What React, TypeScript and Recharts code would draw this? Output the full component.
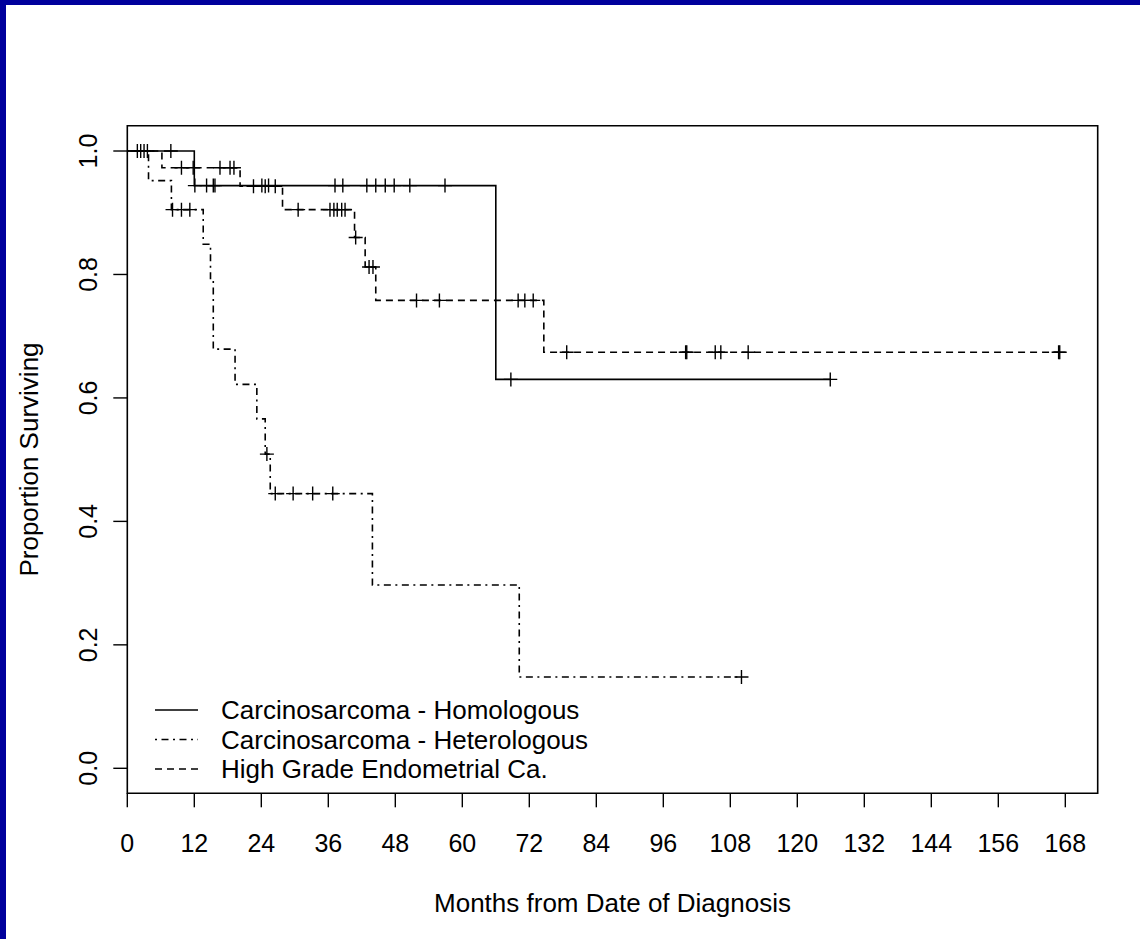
import {
  ComposedChart,
  Legend,
  Line,
  ReferenceArea,
  XAxis,
  YAxis,
} from "recharts";

// Kaplan-Meier steps: time (months) and proportion surviving after each event
const homoTimes = [0, 12, 66, 126];
const homoSurv = [1.0, 0.944, 0.63, 0.63];
const homoCensor = [
  1.8, 2.4, 3.0, 3.6, 7.8, 12.1, 14.2, 15.4, 15.7, 24.1, 25.3, 37.2, 38.6,
  42.9, 44.5, 46.2, 47.8, 50.6, 56.9, 68.7, 125.9,
];

const heteroTimes = [0, 3.8, 7.9, 13.6, 14.9, 15.4, 19.3, 23.2, 24.7, 25.6, 43.9, 70.2, 110.0];
const heteroSurv = [1.0, 0.952, 0.905, 0.849, 0.792, 0.679, 0.622, 0.566, 0.509, 0.445, 0.297, 0.148, 0.148];
const heteroCensor = [8.1, 9.7, 11.2, 25.0, 26.5, 29.7, 33.2, 36.8, 110.0];

const endoTimes = [0, 6.2, 20.2, 27.8, 40.7, 42.6, 44.5, 74.6, 167.0];
const endoSurv = [1.0, 0.973, 0.943, 0.905, 0.86, 0.812, 0.758, 0.674, 0.674];
const endoCensor = [
  9.7, 11.8, 16.6, 18.4, 19.1, 22.6, 24.7, 26.5, 30.6, 36.3, 37.0, 37.6, 38.4,
  39.0, 40.9, 43.3, 44.0, 51.8, 55.9, 70.0, 71.2, 72.7, 78.7, 100.0, 100.2,
  105.3, 106.3, 111.2, 166.8, 167.0,
];

const xTicks = [0, 12, 24, 36, 48, 60, 72, 84, 96, 108, 120, 132, 144, 156, 168];
const yTicks = [0, 0.2, 0.4, 0.6, 0.8, 1.0];

const labels = [
  "Carcinosarcoma - Homologous",
  "Carcinosarcoma - Heterologous",
  "High Grade Endometrial Ca.",
];

const X_DOMAIN: [number, number] = [0, 173.8];
const Y_DOMAIN: [number, number] = [-0.0405, 1.041];
const FONT = "'Liberation Sans', Arial, sans-serif";
const DASH = "7 5";
const DOTDASH = "2 4.5 7 4.5";

const steps = (times: number[], surv: number[]) =>
  times.map((t, i) => ({ t, s: surv[i] }));

// surviving proportion at time t on a step curve
const valueAt = (times: number[], surv: number[], t: number) => {
  let v = surv[0];
  for (let i = 0; i < times.length; i++) if (times[i] <= t) v = surv[i];
  return v;
};

const marks = (times: number[], surv: number[], cens: number[]) =>
  cens.map((t) => ({ t, s: valueAt(times, surv, t) }));

function PlusDot(props: any) {
  const { cx, cy, index } = props;
  if (cx == null || cy == null) return <g key={index} />;
  return (
    <path
      key={index}
      d={`M${cx - 7},${cy}h14M${cx},${cy - 7}v14`}
      stroke="#000"
      strokeWidth={1.4}
      fill="none"
    />
  );
}

function YTick({ x, y, payload }: any) {
  return (
    <text
      x={x}
      y={y}
      transform={`rotate(-90, ${x}, ${y})`}
      textAnchor="middle"
      fontSize={25}
      fontFamily={FONT}
      fill="#000"
    >
      {payload.value.toFixed(1)}
    </text>
  );
}

function XTick({ x, y, payload }: any) {
  return (
    <text x={x} y={y} textAnchor="middle" fontSize={25} fontFamily={FONT} fill="#000">
      {payload.value}
    </text>
  );
}

function KeyBox() {
  const dashes = [undefined, DOTDASH, DASH];
  return (
    <svg width={520} height={100}>
      {labels.map((l, i) => (
        <g key={l}>
          <line
            x1={5}
            x2={48}
            y1={20 + i * 29.5}
            y2={20 + i * 29.5}
            stroke="#000"
            strokeWidth={1.6}
            strokeDasharray={dashes[i]}
          />
          <text x={71} y={29 + i * 29.5} fontSize={26} fontFamily={FONT} fill="#000">
            {l}
          </text>
        </g>
      ))}
    </svg>
  );
}

export default function App() {
  return (
    <div
      style={{
        position: "absolute",
        left: 0,
        top: 0,
        width: 1140,
        height: 939,
        background: "#fff",
        overflow: "hidden",
      }}
    >
      <div style={{ position: "absolute", left: 0, top: 0, width: 1140, height: 5, background: "#00009C" }} />
      <div style={{ position: "absolute", left: 0, top: 0, width: 6, height: 939, background: "#00009C" }} />
      <ComposedChart
        width={1140}
        height={939}
        margin={{ top: 125.7, right: 42.3, left: 67.3, bottom: 95.7 }}
      >
        <XAxis
          dataKey="t"
          type="number"
          domain={X_DOMAIN}
          ticks={xTicks}
          allowDataOverflow
          height={50}
          axisLine={false}
          tickSize={14}
          tickMargin={45}
          tickLine={{ stroke: "#000", strokeWidth: 1.4 }}
          tick={<XTick />}
          label={(p: any) => (
            <text
              x={p.viewBox.x + p.viewBox.width / 2}
              y={912}
              textAnchor="middle"
              fontSize={26}
              fontFamily={FONT}
              fill="#000"
            >
              Months from Date of Diagnosis
            </text>
          )}
        />
        <YAxis
          dataKey="s"
          type="number"
          domain={Y_DOMAIN}
          ticks={yTicks}
          allowDataOverflow
          width={60}
          axisLine={false}
          tickSize={14}
          tickMargin={16}
          tickLine={{ stroke: "#000", strokeWidth: 1.4 }}
          tick={<YTick />}
          label={(p: any) => {
            const cx = 38;
            const cy = p.viewBox.y + p.viewBox.height / 2;
            return (
              <text
                x={cx}
                y={cy}
                transform={`rotate(-90, ${cx}, ${cy})`}
                textAnchor="middle"
                fontSize={26}
                fontFamily={FONT}
                fill="#000"
              >
                Proportion Surviving
              </text>
            );
          }}
        />
        <ReferenceArea
          x1={X_DOMAIN[0]}
          x2={X_DOMAIN[1]}
          y1={Y_DOMAIN[0]}
          y2={Y_DOMAIN[1]}
          fill="none"
          stroke="#000"
          strokeWidth={1.6}
        />
        <Line
          data={steps(homoTimes, homoSurv)}
          dataKey="s"
          type="stepAfter"
          stroke="#000"
          strokeWidth={1.6}
          dot={false}
          activeDot={false}
          isAnimationActive={false}
        />
        <Line
          data={steps(heteroTimes, heteroSurv)}
          dataKey="s"
          type="stepAfter"
          stroke="#000"
          strokeWidth={1.6}
          strokeDasharray={DOTDASH}
          dot={false}
          activeDot={false}
          isAnimationActive={false}
        />
        <Line
          data={steps(endoTimes, endoSurv)}
          dataKey="s"
          type="stepAfter"
          stroke="#000"
          strokeWidth={1.6}
          strokeDasharray={DASH}
          dot={false}
          activeDot={false}
          isAnimationActive={false}
        />
        <Line
          data={marks(homoTimes, homoSurv, homoCensor)}
          dataKey="s"
          stroke="none"
          dot={PlusDot}
          activeDot={false}
          isAnimationActive={false}
        />
        <Line
          data={marks(heteroTimes, heteroSurv, heteroCensor)}
          dataKey="s"
          stroke="none"
          dot={PlusDot}
          activeDot={false}
          isAnimationActive={false}
        />
        <Line
          data={marks(endoTimes, endoSurv, endoCensor)}
          dataKey="s"
          stroke="none"
          dot={PlusDot}
          activeDot={false}
          isAnimationActive={false}
        />
        <Legend
          layout="horizontal"
          verticalAlign="middle"
          align="center"
          content={<KeyBox />}
          wrapperStyle={{ position: "absolute", left: 150, top: 690, width: 520, height: 100 }}
        />
      </ComposedChart>
    </div>
  );
}
